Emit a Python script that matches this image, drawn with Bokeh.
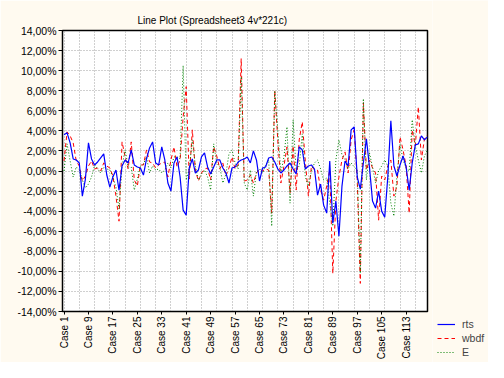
import math
from bokeh.plotting import figure
from bokeh.layouts import row, column
from bokeh.models import Range1d, FixedTicker, Legend, LegendItem
from bokeh.embed import file_html
from bokeh.resources import INLINE

cases = list(range(1, 121))

rts = [3.6, 3.8, 2.8, 1.2, 1.1, 0.8, -2.5, -0.8, 2.8, 1.2,
       0.6, 0.9, 1.3, 1.7, -0.4, -1.6, -0.6, 0.1, -1.9, 0.5,
       1.1, 0.8, 2.1, 0.6, 0.4, 0.3, -0.4, 1.2, 2.3, 2.9,
       0.8, 0.6, 2.4, 1.1, -1.2, -2.0, 0.8, 1.4, -0.6, -3.9,
       -4.4, 0.3, 1.2, -0.2, 0.1, 1.4, 1.8, 0.4, -0.3, 0.4,
       1.1, 1.1, 0.3, -0.2, -1.2, 0.3, 0.4, 0.9, 1.1, 1.2,
       1.4, 0.8, 2.0, 1.1, -1.0, 0.3, 0.4, 1.3, 1.4, 0.9,
       0.2, -0.2, 0.1, 0.5, 0.8, 0.2, -0.3, 2.4, 2.1, 0.2,
       0.5, 0.6, 0.2, -2.4, -1.3, -3.4, -4.2, 1.0, -5.2, -3.0,
       -6.5, -1.5, 1.0, 0.5, 4.1, 4.4, -0.6, -1.8, 0.8, 3.2,
       0.4, -3.0, -3.7, -2.0, -4.0, -4.6, -0.6, 5.0, 0.5, -0.5,
       0.6, 1.5, 0.4, -1.9, 0.8, 2.6, 2.7, 3.5, 3.1, 3.4]

wbdf = [1.0, 3.9, 3.5, 2.8, 1.0, 0.5, -1.0, -0.5, 0.5, 1.0,
        0.2, 0.3, 0.0, 0.8, 0.5, 0.3, -0.5, -2.5, -5.0, 2.9,
        1.4, 0.2, 2.9, -0.9, -1.5, 0.6, 0.6, 2.1, 0.9, 0.8,
        0.3, 0.6, 0.8, 0.9, -0.6, 1.1, 2.4, 0.4, 1.1, 5.4,
        8.4, -0.8, 4.1, 0.1, -1.0, -0.2, 0.2, 0.3, -0.9, 2.4,
        1.5, 0.2, 0.8, -0.5, 0.3, 1.4, 0.2, 0.6, 11.2, -1.0,
        -0.9, -0.4, -1.2, -0.2, 0.2, 0.0, 0.2, 0.1, -4.2, 8.0,
        3.0, -1.2, 0.5, 2.4, -2.2, 2.5, -1.9, 3.1, 4.9, 1.0,
        -2.5, 0.5, 0.1, 0.1, -1.9, -2.9, -1.5, 0.1, -10.2, -3.0,
        -0.6, 1.1, 1.9, -0.2, 3.1, 4.1, -0.9, -11.2, 6.8, 0.1,
        1.1, 0.3, -0.2, -4.9, -0.5, -0.9, 0.5, 1.1, -2.5, -1.5,
        3.4, 2.1, 0.5, -4.2, 4.1, 2.5, 6.4, 1.1, 3.2, 3.6]

E = [0.0, 2.7, 1.0, -0.6, 0.4, 0.1, -0.9, -1.7, -1.3, -0.6,
     0.6, 0.2, -0.2, 0.4, 0.2, 0.1, -0.6, -1.6, -3.8, 0.5,
     2.1, 0.4, 0.4, -1.9, -0.8, 0.5, 0.7, 1.4, -0.2, 0.5,
     0.1, 0.2, -0.2, 0.1, 0.8, 0.3, 1.4, 1.4, 1.2, 10.5,
     -0.9, 0.2, 3.1, 0.5, -0.9, -0.3, 0.1, -0.6, -1.9, 2.7,
     0.8, 0.4, -1.2, -0.3, 1.7, 2.1, 0.8, 0.2, 9.4, -1.2,
     -1.9, 0.1, -2.5, 0.0, 0.2, -0.2, 0.6, 1.1, -5.5, 8.0,
     4.0, -0.2, 1.4, 4.4, -3.2, 5.1, 0.1, 0.5, 3.7, -0.6,
     -1.5, 0.0, 0.8, 1.1, 0.2, -0.9, -0.7, -3.2, -5.5, 1.1,
     3.1, 1.6, 1.1, 0.2, 0.8, 0.4, 0.1, -10.2, 7.2, -0.9,
     1.8, 0.4, -1.2, 0.0, 0.5, 1.1, 0.5, -3.2, -4.5, -0.5,
     2.7, 1.1, 0.3, 0.0, 5.1, 2.5, 1.1, -0.2, 1.5, 2.1]

series = {"rts": rts, "wbdf": wbdf, "E": E}

y_ticks = list(range(-14, 15, 2))
y_tick_labels = {t: f"{t:.2f}%".replace(".", ",") for t in y_ticks}
x_tick_cases = list(range(1, 114, 8))
x_tick_labels = {c: f"Case {c}" for c in x_tick_cases}
x_grid_cases = list(range(1, 117, 5))

FONT = "Liberation Sans"
BG = "#FFFAF0"
STYLES = {
    "rts": dict(line_color="#0000ff", line_width=1.2),
    "wbdf": dict(line_color="#ff0000", line_width=1, line_dash="4 3"),
    "E": dict(line_color="#008000", line_width=1, line_dash="1 2"),
}

p = figure(width=432, height=362, output_backend="svg", toolbar_location=None,
           x_range=Range1d(0.5, 120), y_range=Range1d(-14, 14),
           min_border_left=62, min_border_right=5, min_border_top=30, min_border_bottom=50)
p.background_fill_color = "white"
p.border_fill_color = BG
p.outline_line_color = "black"
p.outline_line_width = 1.5

p.title.text = "Line Plot (Spreadsheet3 4v*221c)"
p.title.align = "left"
p.title.offset = 75
p.title.text_font = FONT
p.title.text_font_size = "10px"
p.title.text_font_style = "normal"
p.title.text_color = "black"

p.yaxis.ticker = FixedTicker(ticks=y_ticks)
p.yaxis.major_label_overrides = y_tick_labels
p.xaxis.ticker = FixedTicker(ticks=x_tick_cases)
p.xaxis.major_label_overrides = x_tick_labels
p.xaxis.major_label_orientation = math.pi / 2
for ax in (p.xaxis[0], p.yaxis[0]):
    ax.major_label_text_font = FONT
    ax.major_label_text_color = "black"
    ax.axis_line_color = "black"
    ax.major_tick_line_color = "black"
    ax.minor_tick_line_color = None
    ax.major_tick_in = 0
p.yaxis.major_label_text_font_size = "10.5px"
p.xaxis.major_label_text_font_size = "10px"
p.yaxis.major_tick_out = 4
p.yaxis.major_label_standoff = 2
p.xaxis.major_tick_out = 3
p.xaxis.major_label_standoff = 2

p.xgrid.ticker = FixedTicker(ticks=x_grid_cases)
p.ygrid.ticker = FixedTicker(ticks=y_ticks)
for g in (p.xgrid[0], p.ygrid[0]):
    g.grid_line_color = "#a0a0a0"
    g.grid_line_dash = "1 2"
    g.grid_line_width = 1

for name in ["wbdf", "E", "rts"]:
    p.line(cases, series[name], **STYLES[name])

# legend panel to the right, level with the axis labels (as in the reference)
q = figure(width=56, height=362, output_backend="svg", toolbar_location=None,
           x_range=Range1d(-1, 0), y_range=Range1d(-14, 14), min_border=0,
           x_axis_location=None, y_axis_location=None)
q.grid.visible = False
q.outline_line_color = None
q.background_fill_color = BG
q.border_fill_color = BG
items = []
for name in ["rts", "wbdf", "E"]:
    # same series, but outside this panel's x-range: only the legend glyph shows
    r = q.line(cases, series[name], **STYLES[name])
    items.append(LegendItem(label=name, renderers=[r]))
legend = Legend(items=items, location=(5, 3), orientation="vertical",
                glyph_width=18, glyph_height=14, label_height=14, label_standoff=7,
                spacing=0, padding=0, margin=0,
                border_line_color=None, background_fill_alpha=0,
                label_text_font=FONT, label_text_font_size="10.5px")
q.add_layout(legend, "center")

layout = row(p, column(q))
open("out.html", "w").write(file_html(layout, INLINE))
